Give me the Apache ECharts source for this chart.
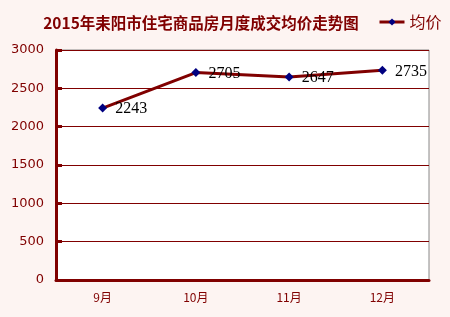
<!DOCTYPE html>
<html><head><meta charset="utf-8">
<script src="https://cdn.jsdelivr.net/npm/echarts@6/dist/echarts.min.js"></script>
<style>html,body{margin:0;padding:0;background:#fdf4f2;}#c{width:450px;height:317px;}</style>
</head><body><div id="c"></div>
<script>
var categories = ['9月', '10月', '11月', '12月'];
var prices = [2243, 2705, 2647, 2735];
var seriesName = '均价';
var titleText = '2015年耒阳市住宅商品房月度成交均价走势图';

var chart = echarts.init(document.getElementById('c'), null, {renderer: 'canvas'});
chart.setOption({
  backgroundColor: '#fdf4f2',
  animation: false,
  title: {
    text: titleText,
    left: 196, top: 10, textAlign: 'center',
    textStyle: {color: '#800000', fontSize: 15.5, fontWeight: 'bold', fontFamily: 'Noto Sans CJK SC'}
  },
  legend: {
    data: [seriesName], left: 373, top: 9,
    itemWidth: 25, itemHeight: 9, itemGap: 5,
    lineStyle: {width: 3, color: '#800000'},
    textStyle: {color: '#800000', fontSize: 16, fontFamily: 'Noto Sans CJK SC'}
  },
  grid: {left: 56, right: 21, top: 50, bottom: 37, show: true, backgroundColor: '#ffffff', borderColor: '#888888', borderWidth: 1},
  xAxis: {
    type: 'category', data: categories, boundaryGap: true,
    axisLine: {lineStyle: {color: '#800000', width: 3}},
    axisTick: {inside: true, length: 4, lineStyle: {color: '#800000', width: 3}},
    axisLabel: {color: '#800000', fontSize: 12, margin: 11, fontFamily: 'Noto Sans CJK SC'},
    splitLine: {show: false}
  },
  yAxis: {
    type: 'value', min: 0, max: 3000, interval: 500,
    axisLine: {show: true, lineStyle: {color: '#800000', width: 3}},
    axisTick: {show: true, inside: true, length: 6, lineStyle: {color: '#800000', width: 3}},
    axisLabel: {color: '#800000', fontSize: 13, margin: 12, fontFamily: 'DejaVu Sans', formatter: function (v) { return String(v); }},
    splitLine: {lineStyle: {color: '#800000', width: 1}}
  },
  series: [{
    name: seriesName, type: 'line', data: prices,
    symbol: 'diamond', symbolSize: 9,
    lineStyle: {color: '#800000', width: 3},
    itemStyle: {color: '#000080'},
    label: {show: true, position: 'right', distance: 8, color: '#000', fontSize: 16, fontFamily: 'Liberation Serif', offset: [0, 1]}
  }]
});
</script></body></html>
